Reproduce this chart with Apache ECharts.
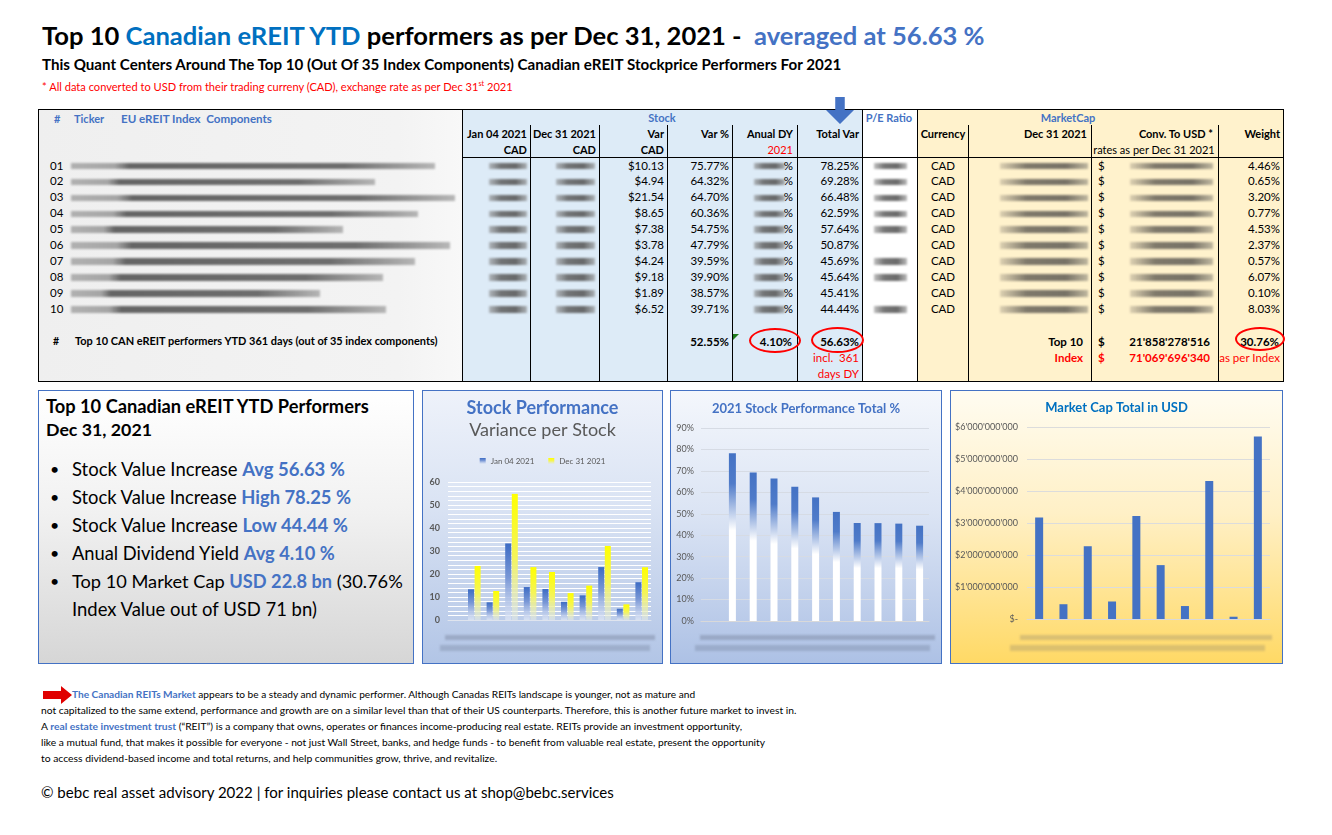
<!DOCTYPE html>
<html><head><meta charset="utf-8">
<script src="https://cdn.jsdelivr.net/npm/echarts@6/dist/echarts.min.js"></script>
<style>
html,body{margin:0;padding:0;background:#fff;}
#page{position:relative;width:1332px;height:835px;overflow:hidden;background:#fff;font-family:Lato,'Noto Sans',sans-serif;}
.t{position:absolute;white-space:nowrap;line-height:1;}
.r{position:absolute;}
.blur{position:absolute;filter:blur(1.2px);}
.box{position:absolute;box-sizing:border-box;border:1px solid #4472C4;}
.chart{position:absolute;left:0;top:0;width:100%;height:100%;}
</style></head>
<body><div id="page">
<div class="box" id="tb" style="left:38px;top:390px;width:376px;height:274px;background:linear-gradient(180deg,#ffffff 0%,#f1f1f1 45%,#d6d6d6 100%);"></div>
<div class="box" id="b1" style="left:422px;top:390px;width:241px;height:274px;background:linear-gradient(180deg,#eef2fa 0%,#dbe4f4 40%,#b2c5e6 100%);"><div class="chart" id="c1"></div></div>
<div class="box" id="b2" style="left:670px;top:390px;width:272px;height:274px;background:linear-gradient(180deg,#f4f7fc 0%,#dbe4f4 45%,#adc1e5 100%);"><div class="chart" id="c2"></div></div>
<div class="box" id="b3" style="left:950px;top:390px;width:333px;height:274px;background:linear-gradient(180deg,#fffcf1 0%,#fff0c6 45%,#ffd965 100%);"><div class="chart" id="c3"></div></div>
</div>
<script>
// ---------------- data ----------------
const categories = ['01','02','03','04','05','06','07','08','09','10'];
const varCad = [10.13, 4.94, 21.54, 8.65, 7.38, 3.78, 4.24, 9.18, 1.89, 6.52];
const varPct = [75.77, 64.32, 64.70, 60.36, 54.75, 47.79, 39.59, 39.90, 38.57, 39.71];
const totalVar = [78.25, 69.28, 66.48, 62.59, 57.64, 50.87, 45.69, 45.64, 45.41, 44.44];
const weights = [4.46, 0.65, 3.20, 0.77, 4.53, 2.37, 0.57, 6.07, 0.10, 8.03];
const currency = ['CAD','CAD','CAD','CAD','CAD','CAD','CAD','CAD','CAD','CAD'];
const priceJan = [13.37, 7.68, 33.29, 14.33, 13.48, 7.91, 10.71, 23.01, 4.90, 16.42];
const priceDec = [23.50, 12.62, 54.83, 22.98, 20.86, 11.69, 14.95, 32.19, 6.79, 22.94];
const marketCapUsd = [3170000000, 462000000, 2274000000, 547000000, 3219000000, 1684000000, 405000000, 4314000000, 71000000, 5707000000];
const perfTicks = [0,10,20,30,40,50,60];
const totalTicks = ['0%','10%','20%','30%','40%','50%','60%','70%','80%','90%'];
const capTicks = ["$-","$1'000'000'000","$2'000'000'000","$3'000'000'000","$4'000'000'000","$5'000'000'000","$6'000'000'000"];
const summary = {varPct:'52.55%', dy:'4.10%', total:'56.63%', top10Cap:"21'858'278'516", indexCap:"71'069'696'340", weight:'30.76%'};

// ---------------- helpers ----------------
const page = document.getElementById('page');
function T(html, x, yc, o){
  o = o || {};
  const d = document.createElement('div');
  d.className = 't';
  d.innerHTML = html;
  const size = o.size || 11;
  d.style.fontSize = size + 'px';
  if (o.bold) d.style.fontWeight = 'bold';
  d.style.color = o.color || '#000';
  d.style.left = '0px'; d.style.top = '0px';
  page.appendChild(d);
  let fs = size;
  if (o.fit) { const w0 = d.getBoundingClientRect().width; fs = size * o.fit / w0; d.style.fontSize = fs + 'px'; }
  const w = d.getBoundingClientRect().width;
  let left = x;
  if (o.align === 'right') left = x - w; else if (o.align === 'center') left = x - w / 2;
  d.style.left = left + 'px';
  d.style.top = (yc - 0.56 * fs) + 'px';
  return d;
}
function R(x, y, w, h, bg, extra){
  const d = document.createElement('div');
  d.className = 'r';
  d.style.left = x + 'px'; d.style.top = y + 'px'; d.style.width = w + 'px'; d.style.height = h + 'px';
  d.style.background = bg;
  if (extra) Object.assign(d.style, extra);
  page.appendChild(d);
  return d;
}
function V(x, y1, y2){ R(x, y1, 1, y2 - y1, '#000'); }
function H(x1, x2, y){ R(x1, y, x2 - x1, 1, '#000'); }
function B(x1, x2, yc, h, bg){
  const d = document.createElement('div');
  d.className = 'blur';
  d.style.left = x1 + 'px'; d.style.width = (x2 - x1) + 'px';
  d.style.top = (yc - h / 2) + 'px'; d.style.height = h + 'px';
  d.style.background = bg;
  page.appendChild(d);
}

// ---------------- title ----------------
T('Top 10 <span style="color:#0070C0">Canadian eREIT YTD</span> performers as per Dec 31, 2021 -&nbsp; <span style="color:#4472C4">averaged at 56.63 %</span>', 42, 37, {size:25, bold:true, fit:943});
T('This Quant Centers Around The Top 10 (Out Of 35 Index Components) Canadian eREIT Stockprice Performers For 2021', 42, 65, {size:13, bold:true, fit:800});
T('* All data converted to USD from their trading curreny (CAD), exchange rate as per Dec 31<sup style="font-size:0.65em">st</sup> 2021', 42, 86, {size:10, color:'#FF0000', fit:471});

// ---------------- table ----------------
R(38, 109, 424, 272, 'linear-gradient(90deg,#efefef 0%,#f3f3f3 85%,#f8f8f8 100%)');
R(462, 109, 400, 272, '#DDEBF7');
R(862, 109, 55, 272, '#ffffff');
R(917, 109, 366, 272, '#FFF2CC');
R(38, 109, 1246, 273, 'transparent', {border:'1px solid #000', boxSizing:'border-box'});
V(462,109,381); V(862,109,381); V(917,109,381);
[530,599,667,732,797,968,1091,1218].forEach(x => V(x,125,381));
H(462,1283,157);

// blue arrow
R(826, 97, 28, 27, '#4472C4', {clipPath:'polygon(33% 0,67% 0,67% 48%,100% 48%,50% 100%,0 48%,33% 48%)'});

const blue = '#4472C4';
T('#', 54, 119, {size:11, bold:true, color:blue});
T('Ticker', 74, 119, {size:11, bold:true, color:blue});
T('EU eREIT Index&nbsp; Components', 121, 119, {size:11, bold:true, color:blue, fit:151});
T('Stock', 662, 118, {size:11, bold:true, color:blue, align:'center'});
T('P/E Ratio', 889, 118, {size:11, bold:true, color:blue, align:'center'});
T('MarketCap', 1068, 118, {size:11, bold:true, color:blue, align:'center'});
const hdr = [['Jan 04 2021',527],['Dec 31 2021',596],['Var',664],['Var %',729],['Anual DY',793],['Total Var',859]];
hdr.forEach(h => T(h[0], h[1], 134, {size:11, bold:true, align:'right'}));
T('CAD', 527, 150, {size:11, bold:true, align:'right'});
T('CAD', 596, 150, {size:11, bold:true, align:'right'});
T('CAD', 664, 150, {size:11, bold:true, align:'right'});
T('2021', 793, 150, {size:11, color:'#FF0000', align:'right'});
T('Currency', 943, 134, {size:11, bold:true, align:'center'});
T('Dec 31 2021', 1087, 134, {size:11, bold:true, align:'right'});
T('Conv. To USD *', 1213, 134, {size:11, bold:true, align:'right'});
T('Weight', 1280, 134, {size:11, bold:true, align:'right'});
T('rates as per Dec 31 2021', 1154, 150, {size:11, align:'center'});

const nameEnd = [435,375,455,418,343,450,415,383,320,386];
const peShow = [1,1,1,1,1,0,1,1,0,1];
const grayBlur = 'linear-gradient(90deg,rgba(140,140,140,0.55) 0%,rgba(95,95,95,0.85) 30%,rgba(90,90,90,0.9) 70%,rgba(140,140,140,0.6) 100%)';
const nameBlur = 'linear-gradient(90deg,rgba(150,150,150,0.7) 0%,rgba(140,140,140,0.75) 12%,rgba(85,85,85,0.9) 16%,rgba(95,95,95,0.9) 75%,rgba(140,140,140,0.6) 100%)';
const capBlur = 'linear-gradient(90deg,rgba(170,160,140,0.4) 0%,rgba(105,100,90,0.85) 30%,rgba(100,96,88,0.88) 75%,rgba(150,145,130,0.6) 100%)';
for (let i = 0; i < 10; i++){
  const y = 166 + i * 15.93;
  T(categories[i], 50, y, {size:11.5});
  B(71, nameEnd[i], y, 6.5, nameBlur);
  B(489, 527, y, 6.5, grayBlur);
  B(556, 595, y, 6.5, grayBlur);
  T('$' + varCad[i].toFixed(2), 664, y, {size:11.5, align:'right'});
  T(varPct[i].toFixed(2) + '%', 729, y, {size:11.5, align:'right'});
  B(754, 785, y, 6.5, grayBlur);
  T('%', 793, y, {size:11.5, align:'right'});
  T(totalVar[i].toFixed(2) + '%', 859, y, {size:11.5, align:'right'});
  if (peShow[i]) B(874, 907, y, 6.5, grayBlur);
  T(currency[i], 943, y, {size:11.5, align:'center'});
  B(1000, 1088, y, 6.5, capBlur);
  T('$', 1098, y, {size:11.5});
  B(1130, 1213, y, 6.5, capBlur);
  T(weights[i].toFixed(2) + '%', 1280, y, {size:11.5, align:'right'});
}
const ys = 342;
T('#', 53, ys, {size:10.5, bold:true});
T('Top 10 CAN eREIT performers YTD 361 days (out of 35 index components)', 75, ys, {size:10.5, bold:true, fit:363});
T(summary.varPct, 729, ys, {size:11.5, bold:true, align:'right'});
T(summary.dy, 792, ys, {size:11.5, bold:true, align:'right'});
T(summary.total, 859, ys, {size:11.5, bold:true, align:'right'});
T('incl.&nbsp; 361', 859, 358, {size:11.5, color:'#FF0000', align:'right'});
T('days DY', 859, 374, {size:11.5, color:'#FF0000', align:'right'});
T('Top 10', 1083, ys, {size:11.5, bold:true, align:'right'});
T('$', 1098, ys, {size:11.5, bold:true});
T(summary.top10Cap, 1210, ys, {size:11.5, bold:true, align:'right'});
T(summary.weight, 1279, ys, {size:11.5, bold:true, align:'right'});
T('Index', 1083, 358, {size:11.5, bold:true, color:'#FF0000', align:'right'});
T('$', 1098, 358, {size:11.5, bold:true, color:'#FF0000'});
T(summary.indexCap, 1210, 358, {size:11.5, bold:true, color:'#FF0000', align:'right'});
T('as per Index', 1280, 358, {size:11.5, color:'#FF0000', align:'right'});
// red ellipses
R(749, 328, 52, 25, 'transparent', {border:'2px solid #FF0000', borderRadius:'50%', boxSizing:'border-box'});
R(811, 327, 53, 26, 'transparent', {border:'2px solid #FF0000', borderRadius:'50%', boxSizing:'border-box'});
R(1235, 327, 50, 24, 'transparent', {border:'2px solid #FF0000', borderRadius:'50%', boxSizing:'border-box'});
// comment marker
R(733, 334, 6, 6, '#1e7b1e', {clipPath:'polygon(0 0,100% 0,0 100%)'});

// ---------------- text box ----------------
T('Top 10 Canadian eREIT YTD Performers', 46, 407, {size:17, bold:true, fit:323});
T('Dec 31, 2021', 46, 431, {size:17, bold:true, fit:106});
const bl = [
  ['Stock Value Increase <b style="color:#4472C4">Avg 56.63 %</b>', 470, 273],
  ['Stock Value Increase <b style="color:#4472C4">High 78.25 %</b>', 498, 279],
  ['Stock Value Increase <b style="color:#4472C4">Low 44.44 %</b>', 526, 276],
  ['Anual Dividend Yield <b style="color:#4472C4">Avg 4.10 %</b>', 554, 263],
  ['Top 10 Market Cap <b style="color:#4472C4">USD 22.8 bn</b> (30.76%', 582, 331]
];
bl.forEach(b => { T('•', 50, b[1], {size:16}); T(b[0], 72, b[1], {size:17, fit:b[2]}); });
T('Index Value out of USD 71 bn)', 72, 610, {size:17, fit:245});

// ---------------- bottom paragraph ----------------
R(43, 686, 29, 18, '#E00000', {clipPath:'polygon(0 28%,62% 28%,62% 0,100% 50%,62% 100%,62% 72%,0 72%)'});
T('<span style="color:#4472C4;font-weight:bold">The Canadian REITs Market</span> appears to be a steady and dynamic performer. Although Canadas REITs landscape is younger, not as mature and', 72, 695, {size:10, fit:624});
T('not capitalized to the same extend, performance and growth are on a similar level than that of their US counterparts. Therefore, this is another future market to invest in.', 41, 711, {size:10, fit:756});
T('A <span style="color:#4472C4;font-weight:bold">real estate investment trust</span> (“REIT”) is a company that owns, operates or finances income-producing real estate. REITs provide an investment opportunity,', 41, 727, {size:10, fit:702});
T('like a mutual fund, that makes it possible for everyone - not just Wall Street, banks, and hedge funds - to benefit from valuable real estate, present the opportunity', 41, 743, {size:10, fit:725});
T('to access dividend-based income and total returns, and help communities grow, thrive, and revitalize.', 41, 759, {size:10, fit:457});
T('© bebc real asset advisory 2022 | for inquiries please contact us at shop@bebc.services', 41, 793, {size:15, fit:573});

// blurred category labels under charts
B(445, 655, 637, 5, 'rgba(110,120,145,0.38)');
B(440, 650, 648, 6, 'rgba(110,120,145,0.32)');
B(700, 935, 637, 5, 'rgba(110,120,145,0.38)');
B(695, 930, 648, 6, 'rgba(110,120,145,0.32)');
B(1020, 1272, 637, 5, 'rgba(140,130,110,0.32)');
B(1010, 1265, 648, 6, 'rgba(140,130,110,0.3)');

// ---------------- charts ----------------
const FF = 'Lato';
const gradJan = {type:'linear',x:0,y:0,x2:0,y2:1,colorStops:[{offset:0,color:'#3d6cc4'},{offset:0.45,color:'#7a98d6'},{offset:1,color:'rgba(225,232,246,0.7)'}]};
const gradDec = {type:'linear',x:0,y:0,x2:0,y2:1,colorStops:[{offset:0,color:'#ffff00'},{offset:0.5,color:'#f4f45a'},{offset:1,color:'rgba(225,232,230,0.6)'}]};
const c1 = echarts.init(document.getElementById('c1'));
c1.setOption({
  animation:false,
  title:{text:'Stock Performance', subtext:'Variance per Stock', left:'center', top:3, itemGap:4,
    textStyle:{fontFamily:FF, fontSize:18, fontWeight:'bold', color:'#4472C4'},
    subtextStyle:{fontFamily:FF, fontSize:18, color:'#595959'}},
  legend:{top:61, left:'center', itemWidth:6, itemHeight:6, itemGap:14, icon:'rect',
    textStyle:{fontFamily:FF, fontSize:8, color:'#595959'}},
  grid:[{left:25, right:11, top:91, bottom:43},{left:42, right:11, top:91, bottom:43}],
  xAxis:[{gridIndex:0, type:'category', data:categories, axisLine:{lineStyle:{color:'#dfe4ee'}}, axisTick:{show:false}, axisLabel:{show:false}},
         {gridIndex:1, type:'category', data:categories, show:false}],
  yAxis:[{gridIndex:0, type:'value', min:0, max:60, interval:10,
          axisLabel:{fontFamily:FF, fontSize:9, fontWeight:'bold', color:'#595959', margin:8, formatter:v => perfTicks.indexOf(v) >= 0 ? String(v) : ''},
          splitLine:{lineStyle:{color:'#ffffff', width:1}},
          minorTick:{show:false, splitNumber:5},
          minorSplitLine:{show:true, lineStyle:{color:'#ffffff', width:1}}},
         {gridIndex:1, type:'value', min:0, max:60, show:false}],
  series:[
    {name:'Jan 04 2021', type:'bar', xAxisIndex:1, yAxisIndex:1, data:priceJan, barWidth:6, barGap:'10%', itemStyle:{color:gradJan}},
    {name:'Dec 31 2021', type:'bar', xAxisIndex:1, yAxisIndex:1, data:priceDec, barWidth:6, itemStyle:{color:gradDec}}
  ]
});

const gradTot = {type:'linear',x:0,y:0,x2:0,y2:1,colorStops:[{offset:0,color:'#4472C4'},{offset:0.18,color:'#4f7bc9'},{offset:0.46,color:'#ffffff'},{offset:1,color:'#ffffff'}]};
const c2 = echarts.init(document.getElementById('c2'));
c2.setOption({
  animation:false,
  title:{text:'2021 Stock Performance Total %', left:'center', top:6,
    textStyle:{fontFamily:FF, fontSize:13, fontWeight:'bold', color:'#4472C4'}},
  grid:[{left:30, right:12, top:37, bottom:42},{left:51, right:11, top:37, bottom:42}],
  xAxis:[{gridIndex:0, type:'category', data:categories, axisLine:{lineStyle:{color:'#d9d9d9'}}, axisTick:{show:false}, axisLabel:{show:false}},
         {gridIndex:1, type:'category', data:categories, show:false}],
  yAxis:[{gridIndex:0, type:'value', min:0, max:90, interval:10,
          axisLabel:{fontFamily:FF, fontSize:9, color:'#595959', margin:7, formatter:v => totalTicks[Math.round(v/10)]},
          splitLine:{lineStyle:{color:'#d6dbe4'}}},
         {gridIndex:1, type:'value', min:0, max:90, show:false}],
  series:[{name:'Total Var', type:'bar', xAxisIndex:1, yAxisIndex:1, data:totalVar, barWidth:7, itemStyle:{color:gradTot}}]
});

const c3 = echarts.init(document.getElementById('c3'));
c3.setOption({
  animation:false,
  title:{text:'Market Cap Total in USD', left:'center', top:5,
    textStyle:{fontFamily:FF, fontSize:13, fontWeight:'bold', color:'#0070C0'}},
  grid:{left:76, right:12, top:36, bottom:44},
  xAxis:{type:'category', data:categories, axisLine:{lineStyle:{color:'#d9d9d9'}}, axisTick:{show:false}, axisLabel:{show:false}},
  yAxis:{type:'value', min:0, max:6000000000, interval:1000000000,
    axisLabel:{fontFamily:FF, fontSize:9, color:'#595959', margin:9, formatter:v => capTicks[Math.round(v/1000000000)]},
    splitLine:{lineStyle:{color:'#dcdcdc'}}},
  series:[{name:'Market Cap USD', type:'bar', data:marketCapUsd, barWidth:8, itemStyle:{color:'#4472C4'}}]
});
</script>
</body></html>
